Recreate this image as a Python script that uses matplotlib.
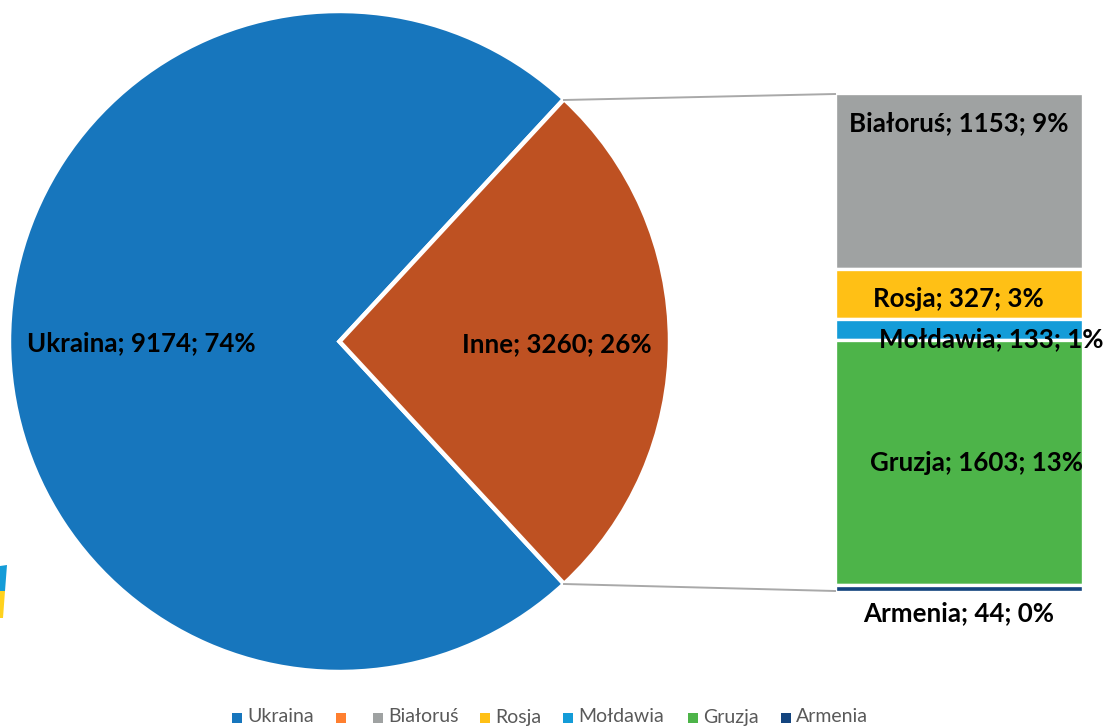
import matplotlib
matplotlib.use('Agg')
import matplotlib.pyplot as plt
import numpy as np
from matplotlib.patches import Polygon

plt.rcParams['font.family'] = ['Lato', 'DejaVu Sans']

# Data
pie_names = ['Ukraina', 'Inne']
pie_values = [9174, 3260]
pie_percent = [74, 26]
pie_colors = ['#1776BD', '#BE5122']

bar_names = ['Białoruś', 'Rosja', 'Mołdawia', 'Gruzja', 'Armenia']
bar_values = [1153, 327, 133, 1603, 44]
bar_percent = [9, 3, 1, 13, 0]
bar_colors = ['#9FA2A2', '#FFC015', '#149CD8', '#4DB449', '#14457F']

legend_names = ['Ukraina', '', 'Białoruś', 'Rosja', 'Mołdawia', 'Gruzja', 'Armenia']
legend_colors = ['#1776BD', '#FF7F2F', '#9FA2A2', '#FFC015', '#149CD8', '#4DB449', '#14457F']

W, H = 1107, 727
fig = plt.figure(figsize=(W/100, H/100), dpi=100)

def px_axes(x0, y0, x1, y1):
    # axes from pixel box, y measured from the top
    return fig.add_axes([x0/W, 1-y1/H, (x1-x0)/W, (y1-y0)/H])

# overlay in pixel coordinates, for labels and legend
ov = fig.add_axes([0, 0, 1, 1], zorder=5)
ov.set_xlim(0, W)
ov.set_ylim(H, 0)
ov.axis('off')

# pie, the small slice is centred on the right side
ax = px_axes(9, 11, 670, 672)
start = 180 * pie_values[1] / sum(pie_values)
ax.pie(pie_values, colors=pie_colors, startangle=start, radius=1,
       wedgeprops=dict(edgecolor='white', linewidth=3.2))
ax.set_xlim(-1, 1)
ax.set_ylim(-1, 1)

# stacked bar for Inne
ax2 = px_axes(834.5, 93, 1083, 591.5)
bottom = 0
for v, c in zip(bar_values, bar_colors):
    ax2.bar(0, v, bottom=bottom, width=1, color=c, edgecolor='white', linewidth=2.4)
    bottom += v
ax2.set_xlim(-0.5, 0.5)
ax2.set_ylim(sum(bar_values), 0)
ax2.axis('off')

# connector lines
ov.plot([564, 835], [100, 94], color='#A9A9A9', lw=1.4)
ov.plot([564, 835], [584, 591], color='#A9A9A9', lw=1.4)

# data labels
lab = dict(fontsize=18.6, fontweight='bold', color='black', ha='center', va='center')
ov.text(141, 343, '%s; %d; %d%%' % (pie_names[0], pie_values[0], pie_percent[0]), **lab)
ov.text(557, 344, '%s; %d; %d%%' % (pie_names[1], pie_values[1], pie_percent[1]), **lab)
bar_label_xy = [(958.5, 123), (958.5, 299), (991, 339), (977, 463), (958.5, 613)]
for n, v, p, xy in zip(bar_names, bar_values, bar_percent, bar_label_xy):
    ov.text(xy[0], xy[1], '%s; %d; %d%%' % (n, v, p), **lab)

# legend
legend_x = [237, 341, 378, 485, 568, 693, 786]
for n, c, x in zip(legend_names, legend_colors, legend_x):
    ov.scatter([x], [717.5], marker='s', s=48, color=c, linewidths=0)
    ov.text(x+10, 717, n, fontsize=14, color='#595959', ha='left', va='center')

# piece of a flag cut by the left edge
ov.add_patch(Polygon([(0, 566), (7, 565), (5, 591), (0, 591)], closed=True, color='#149CD8', lw=0))
ov.add_patch(Polygon([(0, 591), (5, 591), (3, 618), (0, 618)], closed=True, color='#FFD21E', lw=0))

fig.savefig('out.png', dpi=100)
